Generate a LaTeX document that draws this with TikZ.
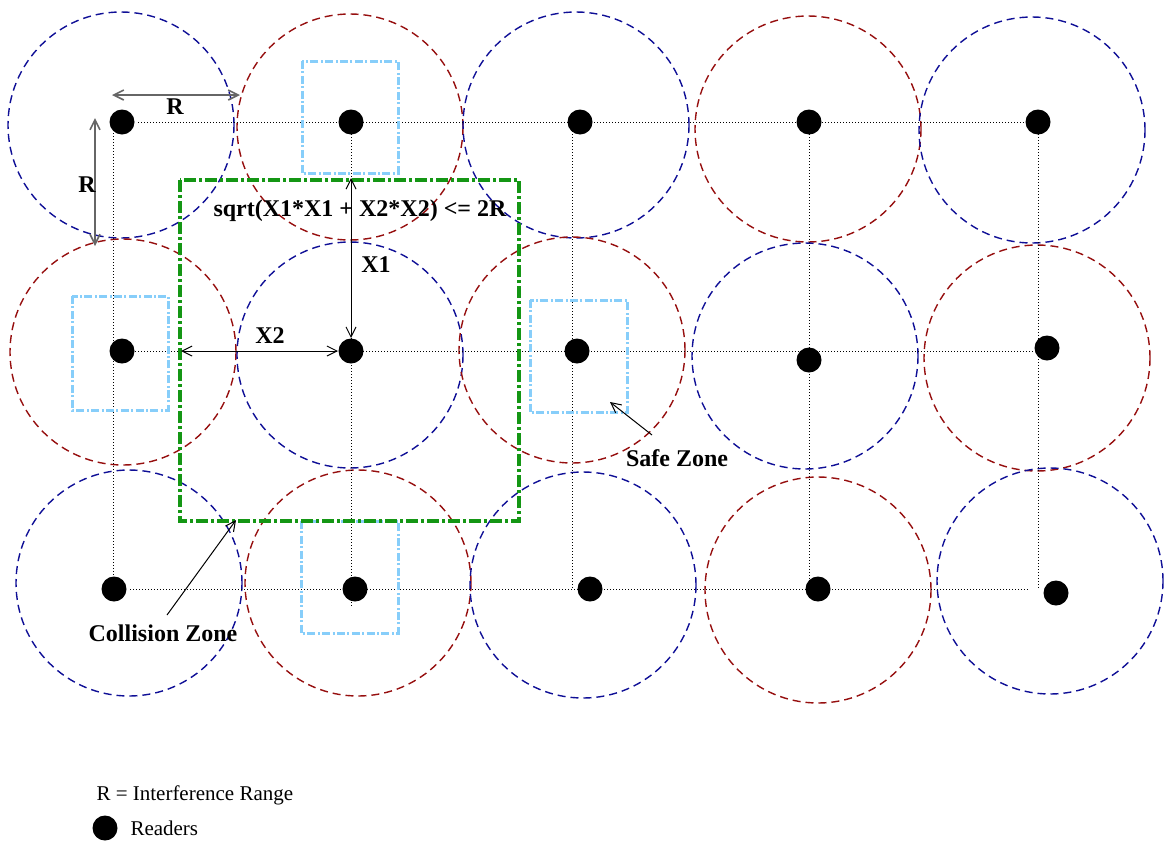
\documentclass[tikz,border=0pt]{standalone}
\usepackage{fontspec}
\setmainfont{Liberation Serif}
\usetikzlibrary{arrows.meta,positioning}
\definecolor{rangeblue}{RGB}{15,15,150}
\definecolor{rangered}{RGB}{150,15,15}
\definecolor{zonegreen}{RGB}{20,150,20}
\definecolor{safeblue}{RGB}{135,206,250}
\tikzset{reader/.style={circle,fill=black,inner sep=0pt,minimum size=12.5pt},
  rangecircle/.style={dash pattern=on 4pt off 2.5pt,line width=0.7pt},
  gridline/.style={dash pattern=on 0.5pt off 1pt,line width=0.5pt},
  collzone/.style={line width=1.6pt,dash pattern=on 6pt off 1.5pt on 1.5pt off 1.5pt},
  safezone/.style={safeblue,line width=1.5pt,dash pattern=on 4pt off 1.2pt on 1pt off 1.2pt},
  tag/.style={font=\fontsize{12}{14}\selectfont\bfseries,inner sep=1pt},
  legendtext/.style={font=\fontsize{10.5}{12}\selectfont,inner sep=1pt,anchor=west}}

\begin{document}
\begin{tikzpicture}[x=0.5pt,y=-0.5pt,>={Straight Barb[length=5pt,width=5pt]},line width=0.5pt]
\useasboundingbox (0,0) rectangle (1165,841);

% interference ranges
\foreach \cx/\cy/\col in {121/125/rangeblue, 350/127/rangered, 576/125/rangeblue, 808/129/rangered, 1032/130/rangeblue,
    123/352/rangered, 350/355/rangeblue, 572/350/rangered, 805/356/rangeblue, 1037/358/rangered,
    129/583/rangeblue, 358/583/rangered, 583/585/rangeblue, 818/590/rangered, 1050/581/rangeblue}
  \draw[rangecircle,\col] (\cx,\cy) circle [radius=56.5pt];

% grid
\draw[gridline] (138,122) -- (1030,122);
\draw[gridline] (135,351) -- (1035,351);
\draw[gridline] (130,589) -- (1030,589);
\draw[gridline] (113,133) -- (113,589);
\draw[gridline] (351,122) -- (351,606);
\draw[gridline] (572,122) -- (572,589);
\draw[gridline] (809,122) -- (809,589);
\draw[gridline] (1038,122) -- (1038,588);

% safe zones and collision zone
\draw[safezone] (302,61) rectangle (398,173);
\draw[safezone] (72,296) rectangle (168,410);
\draw[safezone] (530,300) rectangle (627,412);
\draw[safezone] (301,521) rectangle (398,633);
\draw[collzone,zonegreen] (180,180) rectangle (519,521);

% readers
\node[reader] (r11) at (122,122) {};
\node[reader] (r12) at (351,122) {};
\node[reader] (r13) at (580,122) {};
\node[reader] (r14) at (809,122) {};
\node[reader] (r15) at (1038,122) {};
\node[reader] (r21) at (122,351) {};
\node[reader] (r22) at (351,351) {};
\node[reader] (r23) at (577,351) {};
\node[reader] (r24) at (809,360) {};
\node[reader] (r25) at (1047,348) {};
\node[reader] (r31) at (114,589) {};
\node[reader] (r32) at (355,589) {};
\node[reader] (r33) at (590,589) {};
\node[reader] (r34) at (818,589) {};
\node[reader] (r35) at (1056,593) {};

% dimensions
\coordinate (rh1) at (112,95);
\coordinate (rh2) at (240,95);
\coordinate (rv1) at (95,118);
\coordinate (rv2) at (95,246);
\coordinate (x1top) at (351,178);
\coordinate (x2left) at (181,351);
\draw[<->,gray!80!black,line width=0.8pt] (rh1) -- (rh2);
\draw[<->,gray!80!black,line width=0.8pt] (rv1) -- (rv2);
\draw[<->] (x1top) -- (r22.north);
\draw[<->] (x2left) -- (r22.west);
\node[tag] (rlab1) at (175,107) {R};
\node[tag] (rlab2) at (87,185) {R};
\node[tag] (x1lab) at (376,265) {X1};
\node[tag] (x2lab) at (270,336) {X2};
\node[tag] (rule) at (360,211) {sqrt(X1*X1 + X2*X2) <= 2R};

% zone labels
\node[tag] (safelab) at (677,458) {Safe Zone};
\node[tag] (collab) at (163,633) {Collision Zone};
\coordinate (safetip) at (610,402);
\coordinate (coltip) at (236,520);
\draw[->] (652,435) -- (safetip);
\draw[->] (167,615) -- (coltip);

% legend
\node[legendtext] (rdef) at (94,795) {R = Interference Range};
\node[reader] (rdot) at (105,828) {};
\node[legendtext,right=5pt of rdot] (rtxt) {Readers};
\end{tikzpicture}
\end{document}
